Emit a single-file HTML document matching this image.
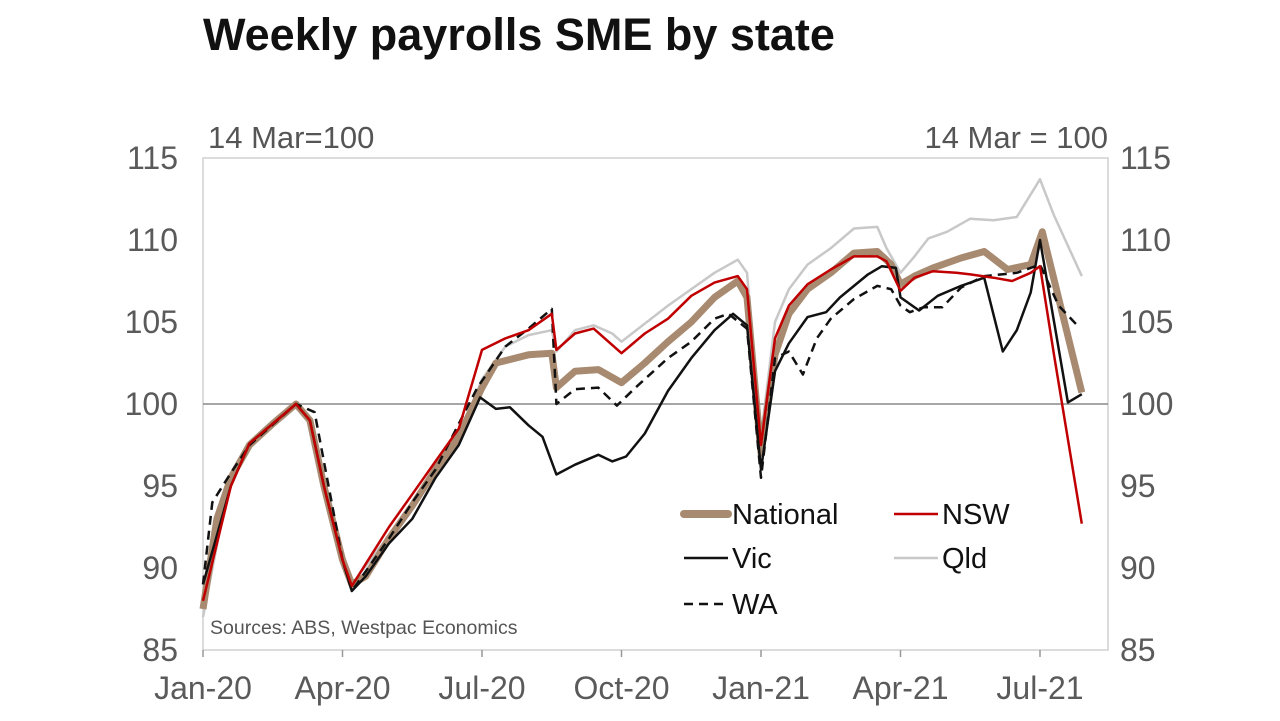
<!DOCTYPE html>
<html><head><meta charset="utf-8"><style>
body{margin:0;background:#fff;}
svg{display:block;font-family:"Liberation Sans",Arial,sans-serif;}
</style></head><body>
<svg id="c" width="1280" height="721">
<text x="203" y="50" font-size="45" font-weight="bold" fill="#111">Weekly payrolls SME by state</text>
<text x="208" y="148" font-size="31" fill="#555">14 Mar=100</text>
<text x="1108" y="148" font-size="31" fill="#555" text-anchor="end">14 Mar = 100</text>
<rect x="203" y="158" width="905" height="492" fill="none" stroke="#d0d0d0" stroke-width="1.5"/>
<g id="axes"></g>
<g id="series"></g>
<text x="210" y="634" font-size="19.5" fill="#555">Sources: ABS, Westpac Economics</text>
<g id="legend"></g>
</svg>
<script>
const yTicks=[85,90,95,100,105,110,115];
const xLabels=["Jan-20","Apr-20","Jul-20","Oct-20","Jan-21","Apr-21","Jul-21"];
const xLabelMonths=[0,3,6,9,12,15,18];
const natX=[0,0.3,0.6,1,1.5,2,2.3,2.6,3,3.2,3.5,4,4.5,5,5.5,6,6.3,7,7.5,7.6,8,8.5,9,9.5,10,10.5,11,11.5,11.7,12,12.3,12.6,13,13.5,14,14.5,14.8,15,15.3,15.7,16.3,16.8,17.3,17.8,18.05,18.9];
const natY=[87.5,93,95.5,97.5,98.8,100,99,95,90.5,89,89.5,91.8,93.8,96,98,101,102.5,103,103.1,101,102,102.1,101.3,102.5,103.8,105,106.5,107.5,106.5,97,103,105.5,107,108,109.2,109.3,108.5,107.3,107.8,108.3,108.9,109.3,108.2,108.5,110.5,100.7];
const nswX=[0,0.6,1,2,2.3,2.6,3,3.2,4,4.5,5,5.5,6,6.5,7,7.5,7.6,8,8.4,9,9.5,10,10.5,11,11.5,11.7,12,12.3,12.6,13,13.5,14,14.5,14.7,15,15.3,15.7,16.2,16.5,17,17.4,17.8,18,18.3,18.9];
const nswY=[88,95,97.6,100,99,95,90.5,88.9,92.5,94.5,96.5,98.5,103.3,104,104.5,105.5,103.3,104.3,104.6,103.1,104.3,105.2,106.6,107.4,107.8,107,97.5,104,106,107.3,108.2,109,109,108.7,106.9,107.7,108.1,108,107.9,107.7,107.5,108,108.4,103,92.7];
const vicX=[0,0.6,1,2,2.3,2.6,3,3.2,3.5,4,4.5,5,5.5,5.96,6.3,6.6,7,7.3,7.6,8,8.5,8.8,9.1,9.5,10,10.5,11,11.4,11.7,12,12.3,12.6,13,13.4,13.7,14.3,14.6,14.9,15,15.4,15.8,16.3,16.8,17.2,17.5,17.8,18,18.6,18.9];
const vicY=[89,95,97.6,100,99,95,90.5,88.6,89.5,91.5,93,95.5,97.5,100.4,99.7,99.8,98.7,98,95.7,96.3,96.9,96.5,96.8,98.2,100.8,102.8,104.5,105.5,104.8,96,102,103.7,105.3,105.6,106.5,107.9,108.4,108.3,106.5,105.7,106.6,107.2,107.7,103.2,104.5,106.8,110,100.1,100.6];
const qldX=[0,0.6,1,2,2.3,2.6,3,3.2,4,4.5,5,5.5,6,6.5,7,7.5,7.6,8,8.4,8.8,9,10,11,11.5,11.7,12,12.3,12.6,13,13.5,14,14.5,14.7,15,15.3,15.6,16,16.5,17,17.5,18,18.3,18.9];
const qldY=[87,95.8,97.6,100,99,95,90.5,89,92,94,96,98,101.5,103.5,104.2,104.5,103.2,104.5,104.8,104.3,103.8,106,108,108.8,108,98,105,107,108.5,109.5,110.7,110.8,109.5,108,109,110.1,110.5,111.3,111.2,111.4,113.7,111.5,107.8];
const waX=[0,0.2,0.6,1,2,2.4,3,3.2,4,4.5,5,5.5,5.9,6.5,7,7.5,7.6,8,8.5,8.9,9.3,10,10.5,11,11.3,11.7,12,12.3,12.6,12.9,13.2,13.5,14,14.5,14.8,15,15.2,15.5,15.9,16.3,16.8,17.5,18,18.4,18.8];
const waY=[89,94,95.8,97.5,100,99.5,90.5,88.6,91.8,94,96,98.8,101,103.5,104.6,105.8,100,100.9,101,99.9,101,102.8,103.8,105.2,105.5,104.6,95.5,102.8,103.2,101.8,104,105.2,106.4,107.2,107,106,105.6,105.9,105.9,107.1,107.8,108,108.5,106,104.8];

const X0=203,PXM=46.5,YT=158,YB=650;
const xs=m=>X0+m*PXM;
const ys=v=>YB-(v-85)*(YB-YT)/30;
const NS="http://www.w3.org/2000/svg";
function mk(tag,attrs,parent){const e=document.createElementNS(NS,tag);for(const k in attrs)e.setAttribute(k,attrs[k]);parent.appendChild(e);return e;}
const ax=document.getElementById('axes');
yTicks.forEach(t=>{
  const l=mk('text',{x:178,y:ys(t)+11,'font-size':32,fill:'#5a5a5a','text-anchor':'end'},ax);
  l.textContent=t;
  
  
  const r=mk('text',{x:1120,y:ys(t)+11,'font-size':32,fill:'#5a5a5a'},ax);
  r.textContent=t;
  
  
});
const base=mk('line',{x1:203,x2:1108,y1:ys(100),y2:ys(100),stroke:'#888','stroke-width':1.5},ax);


xLabels.forEach((s,i)=>{
  const x=xs(xLabelMonths[i]);
  const tk=mk('line',{x1:x,x2:x,y1:650,y2:657,stroke:'#999','stroke-width':1.5},ax);
  
  
  const t=mk('text',{x:x,y:699,'font-size':32,fill:'#5a5a5a','text-anchor':'middle'},ax);
  t.textContent=s;
  
  
});
const sg=document.getElementById('series');
function line(xa,ya,style,name){
  const d=xa.map((m,i)=>(i?'L':'M')+xs(m).toFixed(1)+','+ys(ya[i]).toFixed(1)).join('');
  const p=mk('path',Object.assign({d:d,fill:'none','stroke-linejoin':'round'},style),sg);
  
  
}
line(qldX,qldY,{stroke:'#c8c8c8','stroke-width':2.5},'qld-line');
line(natX,natY,{stroke:'#a88a70','stroke-width':7},'national-line');
line(waX,waY,{stroke:'#111','stroke-width':2.5,'stroke-dasharray':'9,6'},'wa-line');
line(vicX,vicY,{stroke:'#111','stroke-width':2.5},'vic-line');
line(nswX,nswY,{stroke:'#c00000','stroke-width':2.5},'nsw-line');
const lg=document.getElementById('legend');
const items=[['National',680,514,{stroke:'#a88a70','stroke-width':8,'stroke-linecap':'round'}],
['NSW',890,514,{stroke:'#c00000','stroke-width':2.5}],
['Vic',680,558,{stroke:'#111','stroke-width':2.5}],
['Qld',890,558,{stroke:'#c8c8c8','stroke-width':2.5}],
['WA',680,604,{stroke:'#111','stroke-width':2.5,'stroke-dasharray':'9,6'}]];
items.forEach(it=>{
  const g=mk('g',{},lg);
  
  
  mk('line',Object.assign({x1:it[1]+4,x2:it[1]+48,y1:it[2],y2:it[2]},it[3]),g);
  const t=mk('text',{x:it[1]+52,y:it[2]+10,'font-size':29,fill:'#111'},g);
  t.textContent=it[0];
});
</script>
</body></html>
